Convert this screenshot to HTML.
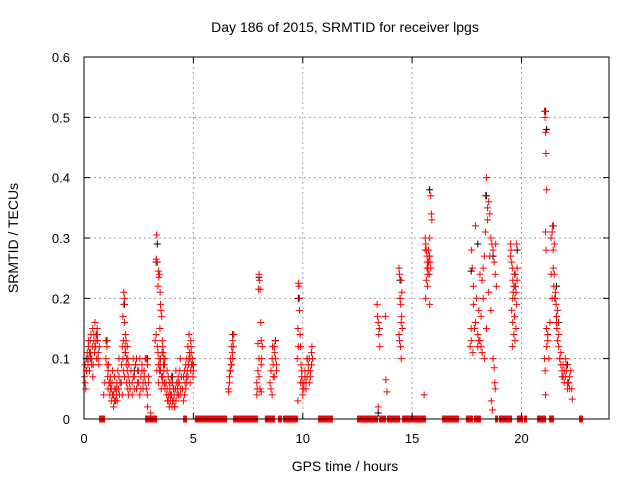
<!DOCTYPE html>
<html><head><meta charset="utf-8"><style>
body{margin:0;background:#fff;}
svg{display:block;font-family:"Liberation Sans",sans-serif;}
</style></head><body>
<svg id="chart" width="640" height="480" xmlns="http://www.w3.org/2000/svg">
<text x="345" y="32" font-size="14" text-anchor="middle">Day 186 of 2015, SRMTID for receiver lpgs</text>
<text x="345" y="471" font-size="14" text-anchor="middle">GPS time / hours</text>
<text x="0" y="0" font-size="14" text-anchor="middle" transform="translate(18,238) rotate(-90)">SRMTID / TECUs</text>
<g id="grid"></g><g id="zeros"></g><g id="black"></g><g id="red"></g><g id="axes"></g>
</svg>
<script>
const xTicks=[0,5,10,15,20];
const yTicks=[0,0.1,0.2,0.3,0.4,0.5,0.6];
const yTickLabels=["0","0.1","0.2","0.3","0.4","0.5","0.6"];
const zeroStart=[0.69,2.79,4.53,5.07,6.81,8.27,8.87,9.10,10.70,12.48,13.49,13.85,14.54,16.37,17.46,17.83,18.79,18.97,19.79,20.11,20.71,21.26,22.63];
const zeroEnd=[0.96,3.34,4.71,6.54,7.95,8.73,9.05,9.78,11.38,13.44,13.81,14.45,15.63,17.14,17.78,18.15,18.93,19.57,20.07,20.25,21.12,21.49,22.81];
const redX=[0.02,0.05,0.08,0.1,0.12,0.15,0.18,0.2,0.22,0.25,0.28,0.3,0.32,0.35,0.38,0.4,0.42,0.45,0.48,0.5,0.52,0.55,0.58,0.6,0.62,0.65,0.68,0.7,0.05,0.15,0.25,0.35,0.45,0.55,0.65,0.1,0.3,0.5,0.2,0.4,
0.9,0.95,1.0,1.05,1.08,1.1,1.12,1.15,1.18,1.2,1.22,1.25,1.28,1.3,1.32,1.35,1.38,1.4,1.42,1.45,1.48,1.5,1.52,1.55,1.58,1.6,1.62,1.65,1.0,1.1,1.2,1.3,1.4,1.5,1.6,1.05,1.25,1.45,1.15,1.35,
1.7,1.72,1.75,1.78,1.8,1.82,1.85,1.85,1.88,1.9,1.92,1.95,1.98,2.0,2.02,2.05,2.08,2.1,1.75,1.8,1.85,1.9,1.95,2.0,1.82,1.88,1.93,1.78,2.03,1.98,
2.15,2.2,2.25,2.3,2.35,2.4,2.45,2.5,2.55,2.6,2.65,2.7,2.75,2.8,2.85,2.9,2.95,2.2,2.3,2.4,2.5,2.6,2.7,2.8,2.9,2.25,2.45,2.65,2.85,2.35,2.55,2.75,2.95,2.9,3.05,
3.3,3.32,3.35,3.38,3.4,3.42,3.45,3.48,3.5,3.52,3.55,3.58,3.6,3.62,3.65,3.68,3.7,3.3,3.35,3.4,3.45,3.5,3.55,3.6,3.65,3.7,3.38,3.48,3.58,3.68,3.33,3.43,3.53,3.63,3.47,3.57,3.25,3.4,3.5,3.6,
3.75,3.78,3.8,3.82,3.85,3.88,3.9,3.92,3.95,3.98,4.0,4.02,4.05,4.08,4.1,4.12,4.15,4.18,4.2,4.22,4.25,4.28,4.3,4.32,4.35,4.38,4.4,4.42,4.45,3.8,3.9,4.0,4.1,4.2,4.3,4.4,3.85,3.95,4.05,4.15,
4.5,4.55,4.6,4.62,4.65,4.68,4.7,4.72,4.75,4.78,4.8,4.82,4.85,4.88,4.9,4.92,4.95,4.98,5.0,4.6,4.7,4.8,4.9,5.0,4.65,4.75,4.85,4.95,4.55,4.88,
6.6,6.62,6.65,6.68,6.7,6.72,6.75,6.78,6.8,6.82,6.65,6.7,6.75,6.8,6.85,
7.9,7.92,7.95,7.98,8.0,8.02,8.05,8.08,8.1,8.12,7.95,8.0,8.05,8.1,8.15,7.9,8.0,8.1,
8.5,8.55,8.6,8.62,8.65,8.7,8.72,8.75,8.8,8.55,8.65,8.75,8.6,8.7,8.8,
9.75,9.78,9.8,9.82,9.85,9.88,9.9,9.92,9.95,9.98,10.0,10.05,10.1,10.15,10.2,10.25,10.3,10.35,10.4,10.45,9.8,9.9,10.0,10.1,10.2,10.3,10.4,9.85,9.95,10.05,10.15,10.25,10.35,9.78,10.42,
13.4,13.42,13.45,13.48,13.5,13.52,13.45,13.8,13.85,13.78,
14.4,14.42,14.45,14.48,14.5,14.52,14.55,14.42,14.47,14.5,14.53,14.45,14.4,14.5,
15.6,15.62,15.65,15.68,15.7,15.72,15.75,15.78,15.8,15.82,15.85,15.65,15.7,15.75,15.8,15.6,15.68,15.72,15.78,15.85,15.88,15.9,15.55,15.62,15.8,
17.65,17.7,17.72,17.75,17.78,17.8,17.85,17.9,17.95,18.0,18.05,18.1,18.15,18.2,18.25,18.3,18.35,18.4,18.45,18.5,18.55,18.6,18.65,18.7,18.75,18.8,18.82,18.85,17.7,17.8,17.9,18.0,18.1,18.2,18.3,18.4,18.5,18.6,18.7,18.75,18.8,18.35,18.45,18.55,18.25,18.15,18.05,18.62,18.68,18.78,
19.5,19.52,19.55,19.58,19.6,19.62,19.65,19.68,19.7,19.72,19.75,19.78,19.8,19.55,19.6,19.65,19.7,19.75,19.5,19.6,19.7,19.8,19.58,19.68,19.78,
21.05,21.08,21.1,21.12,21.15,21.1,21.12,21.15,21.05,21.08,21.1,21.2,21.3,21.35,21.4,21.42,21.45,21.48,21.5,21.52,21.55,21.58,21.6,21.62,21.65,21.7,21.75,21.8,21.85,21.9,21.95,22.0,22.05,22.1,22.15,22.2,22.25,22.3,21.4,21.5,21.6,21.7,21.8,21.9,22.0,22.1,22.2,21.75,21.85,21.95,22.05,22.15,21.45,21.55,21.65,21.15,21.2,21.25,21.35,22.32];
const redY=[0.07,0.09,0.05,0.1,0.08,0.11,0.09,0.12,0.1,0.08,0.13,0.11,0.14,0.1,0.12,0.15,0.09,0.13,0.11,0.16,0.12,0.14,0.1,0.15,0.13,0.11,0.09,0.12,0.06,0.1,0.11,0.09,0.14,0.13,0.1,0.08,0.1,0.12,0.13,0.07,
0.04,0.06,0.13,0.12,0.07,0.05,0.09,0.06,0.04,0.07,0.05,0.03,0.06,0.08,0.04,0.02,0.05,0.07,0.03,0.05,0.04,0.06,0.03,0.08,0.05,0.1,0.04,0.06,0.1,0.08,0.06,0.04,0.03,0.05,0.07,0.09,0.05,0.03,0.06,0.04,
0.06,0.09,0.12,0.17,0.13,0.21,0.2,0.16,0.11,0.14,0.13,0.1,0.08,0.1,0.07,0.09,0.06,0.05,0.04,0.08,0.07,0.11,0.06,0.05,0.19,0.12,0.09,0.1,0.04,0.12,
0.08,0.06,0.1,0.07,0.09,0.05,0.08,0.06,0.04,0.07,0.09,0.05,0.08,0.06,0.1,0.09,0.07,0.04,0.05,0.1,0.08,0.05,0.06,0.1,0.04,0.07,0.06,0.08,0.05,0.09,0.1,0.07,0.06,0.02,0.01,
0.265,0.305,0.26,0.22,0.245,0.235,0.24,0.21,0.19,0.18,0.17,0.13,0.12,0.11,0.1,0.09,0.1,0.14,0.12,0.09,0.08,0.1,0.07,0.06,0.08,0.05,0.11,0.09,0.07,0.06,0.08,0.1,0.05,0.09,0.15,0.11,0.13,0.06,0.08,0.07,
0.06,0.04,0.05,0.03,0.07,0.04,0.02,0.05,0.03,0.06,0.04,0.02,0.03,0.05,0.03,0.04,0.02,0.05,0.03,0.06,0.04,0.05,0.07,0.04,0.06,0.08,0.1,0.05,0.07,0.08,0.06,0.07,0.05,0.08,0.06,0.04,0.03,0.04,0.06,0.02,
0.05,0.07,0.08,0.06,0.09,0.07,0.1,0.08,0.12,0.09,0.14,0.11,0.1,0.08,0.12,0.09,0.1,0.07,0.09,0.04,0.06,0.1,0.11,0.08,0.05,0.07,0.06,0.09,0.03,0.13,
0.05,0.045,0.07,0.08,0.1,0.09,0.12,0.11,0.13,0.12,0.06,0.08,0.09,0.1,0.14,
0.06,0.05,0.125,0.215,0.24,0.23,0.215,0.16,0.13,0.1,0.08,0.07,0.05,0.045,0.12,0.04,0.1,0.09,
0.06,0.08,0.1,0.12,0.09,0.07,0.11,0.13,0.08,0.05,0.07,0.1,0.04,0.12,0.09,
0.1,0.15,0.225,0.22,0.18,0.14,0.12,0.09,0.07,0.06,0.05,0.06,0.08,0.05,0.07,0.09,0.1,0.08,0.11,0.1,0.12,0.06,0.04,0.07,0.1,0.06,0.09,0.2,0.08,0.05,0.06,0.08,0.07,0.03,0.12,
0.19,0.17,0.16,0.14,0.15,0.12,0.02,0.065,0.045,0.17,
0.25,0.24,0.2,0.19,0.16,0.17,0.15,0.13,0.12,0.1,0.21,0.2,0.14,0.23,
0.3,0.29,0.28,0.27,0.26,0.25,0.28,0.24,0.27,0.26,0.25,0.23,0.22,0.26,0.3,0.28,0.25,0.24,0.27,0.37,0.34,0.33,0.04,0.2,0.19,
0.12,0.15,0.28,0.25,0.11,0.22,0.15,0.32,0.2,0.14,0.18,0.13,0.12,0.11,0.25,0.27,0.31,0.4,0.35,0.36,0.34,0.3,0.29,0.28,0.26,0.24,0.29,0.22,0.13,0.19,0.16,0.12,0.24,0.23,0.1,0.15,0.21,0.18,0.1,0.085,0.05,0.37,0.33,0.27,0.2,0.17,0.13,0.03,0.015,0.06,
0.29,0.28,0.26,0.25,0.23,0.21,0.22,0.24,0.2,0.22,0.21,0.19,0.23,0.18,0.16,0.14,0.13,0.15,0.27,0.2,0.22,0.25,0.12,0.17,0.29,
0.51,0.5,0.475,0.44,0.38,0.31,0.28,0.12,0.1,0.08,0.04,0.13,0.16,0.3,0.31,0.32,0.25,0.22,0.29,0.2,0.21,0.19,0.17,0.15,0.13,0.12,0.1,0.09,0.08,0.07,0.06,0.07,0.08,0.05,0.06,0.07,0.08,0.05,0.2,0.24,0.16,0.14,0.11,0.09,0.1,0.06,0.05,0.1,0.07,0.08,0.09,0.06,0.28,0.2,0.18,0.15,0.14,0.1,0.24,0.033];
const blackX=[0.3,0.6,1.05,1.85,2.9,3.3,3.35,4.8,6.8,8.0,8.75,9.8,13.45,14.45,15.8,17.7,18.0,18.4,18.7,19.7,19.8,21.1,21.15,21.45,21.6,21.7,22.1,4.05,2.3,10.2];
const blackY=[0.1,0.14,0.13,0.19,0.1,0.26,0.29,0.14,0.14,0.235,0.13,0.2,0.01,0.23,0.38,0.245,0.29,0.37,0.27,0.24,0.28,0.51,0.48,0.32,0.22,0.16,0.09,0.07,0.08,0.1];

const L=84,R=609,T=57,B=419,XMAX=24,YMAX=0.6;
const sx=h=>L+h/XMAX*(R-L);
const sy=v=>B-v/YMAX*(B-T);
const NS="http://www.w3.org/2000/svg";
function mk(tag,parent,attrs){const e=document.createElementNS(NS,tag);for(const k in attrs)e.setAttribute(k,attrs[k]);parent.appendChild(e);return e;}
const grid=document.getElementById('grid'),axes=document.getElementById('axes');
xTicks.forEach(t=>{
  if(t>0){const g=mk('line',grid,{x1:sx(t),x2:sx(t),y1:T,y2:B,stroke:'#a0a0a0','stroke-dasharray':'2,3'});
  
  }
  const tk=mk('path',axes,{d:`M${sx(t)},${B}v-6M${sx(t)},${T}v6`,stroke:'#000'});
  
  
  const lb=mk('text',axes,{x:sx(t),y:B+24,'font-size':13,'text-anchor':'middle'});lb.textContent=t;
  
  
});
yTicks.forEach((t,i)=>{
  if(t>0&&t<YMAX){const g=mk('line',grid,{x1:L,x2:R,y1:sy(t),y2:sy(t),stroke:'#a0a0a0','stroke-dasharray':'2,3'});
  
  }
  const tk=mk('path',axes,{d:`M${L},${sy(t)}h6M${R},${sy(t)}h-6`,stroke:'#000'});
  
  
  const lb=mk('text',axes,{x:L-14,y:sy(t)+5,'font-size':13,'text-anchor':'end'});lb.textContent=yTickLabels[i];
  
  
});
const frame=mk('rect',axes,{x:L,y:T,width:R-L,height:B-T,fill:'none',stroke:'#000'});


const zg=document.getElementById('zeros');
zeroStart.forEach((s,i)=>{
  const r=mk('rect',zg,{x:sx(s),y:sy(0)-3.5,width:Math.max(2,sx(zeroEnd[i])-sx(s)),height:7,fill:'#ff0000'});
  
  
});
function plus(g,x,y,c){
  const p=mk('path',g,{d:`M${sx(x)-3.5},${sy(y)}h7M${sx(x)},${sy(y)-3.5}v7`,stroke:c,'stroke-width':1});
  return p;
}
const bg=document.getElementById('black');
blackX.forEach((x,i)=>{const p=plus(bg,x,blackY[i],'#000');
  
  });
const rg=document.getElementById('red');
redX.forEach((x,i)=>{const p=plus(rg,x,redY[i],'#ff0000');
  
  });
</script>
</body></html>
